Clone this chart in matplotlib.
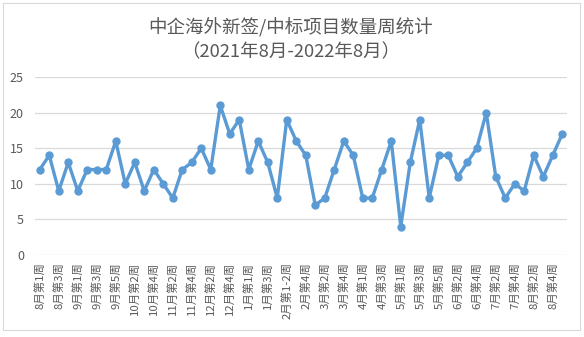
import matplotlib
matplotlib.use("Agg")
import matplotlib.pyplot as plt
from matplotlib.patches import Rectangle

plt.rcParams['font.family'] = ['Noto Sans CJK SC', 'DejaVu Sans']

categories = [
    "8月第1周", "8月第2周", "8月第3周", "8月第4周",
    "9月第1周", "9月第2周", "9月第3周", "9月第4周", "9月第5周",
    "10月第1周", "10月第2周", "10月第3周", "10月第4周",
    "11月第1周", "11月第2周", "11月第3周", "11月第4周",
    "12月第1周", "12月第2周", "12月第3周", "12月第4周", "12月第5周",
    "1月第1周", "1月第2周", "1月第3周", "1月第4周",
    "2月第1-2周", "2月第3周", "2月第4周",
    "3月第1周", "3月第2周", "3月第3周", "3月第4周", "3月第5周",
    "4月第1周", "4月第2周", "4月第3周", "4月第4周",
    "5月第1周", "5月第2周", "5月第3周", "5月第4周", "5月第5周",
    "6月第1周", "6月第2周", "6月第3周", "6月第4周",
    "7月第1周", "7月第2周", "7月第3周", "7月第4周",
    "8月第1周", "8月第2周", "8月第3周", "8月第4周", "8月第5周",
]
values = [12, 14, 9, 13, 9, 12, 12, 12, 16, 10, 13, 9, 12, 10, 8, 12, 13, 15,
          12, 21, 17, 19, 12, 16, 13, 8, 19, 16, 14, 7, 8, 12, 16, 14, 8, 8,
          12, 16, 4, 13, 19, 8, 14, 14, 11, 13, 15, 20, 11, 8, 10, 9, 14, 11,
          14, 17]
yticks = [0, 5, 10, 15, 20, 25]
title = "中企海外新签/中标项目数量周统计\n（2021年8月-2022年8月）"

W, H = 584, 337
fig = plt.figure(figsize=(W / 100, H / 100), dpi=100)
fig.patch.set_facecolor("white")
fig.patches.append(Rectangle((3 / W, 1 - 330 / H), 577 / W, 327 / H,
                             transform=fig.transFigure, fill=False,
                             edgecolor="#d9d9d9", linewidth=0.8))

ax = fig.add_axes([35 / W, 1 - 255 / H, (567 - 35) / W, (255 - 77) / H])
x = list(range(len(values)))
ax.plot(x, values, color="#5b9bd5", linewidth=2.4, marker="o",
        markersize=5, markerfacecolor="#5b9bd5", markeredgecolor="#5b9bd5",
        zorder=3)
ax.set_xlim(-0.5, len(values) - 0.5)
ax.set_ylim(0, 25)
ax.set_yticks(yticks)
ax.grid(axis="y", color="#d9d9d9", linewidth=0.9)
ax.set_axisbelow(True)
for s in ax.spines.values():
    s.set_visible(False)
ax.set_xticks(x[::2])
ax.set_xticklabels(categories[::2], rotation=90, fontsize=8.2, color="#595959")
ax.tick_params(axis="both", length=0)
ax.tick_params(axis="y", labelsize=9, labelcolor="#595959", pad=8)
ax.tick_params(axis="x", pad=5)

fig.text(291 / W, 1 - 40 / H, title, ha="center", va="center", fontsize=13.3,
         color="#595959", linespacing=1.4)

fig.savefig("out.png", dpi=100)
